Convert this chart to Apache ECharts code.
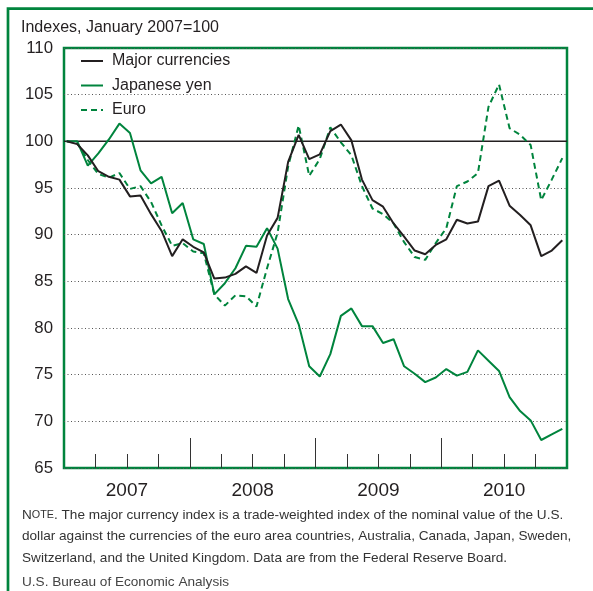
<!DOCTYPE html>
<html><head><meta charset="utf-8">
<script src="https://cdn.jsdelivr.net/npm/echarts@6/dist/echarts.min.js"></script>
<style>html,body{margin:0;padding:0;background:#fff}#c{width:593px;height:591px}</style>
</head><body><div id="c"></div>
<script>
const months = ['2007-01','2007-02','2007-03','2007-04','2007-05','2007-06','2007-07','2007-08','2007-09','2007-10','2007-11','2007-12',
  '2008-01','2008-02','2008-03','2008-04','2008-05','2008-06','2008-07','2008-08','2008-09','2008-10','2008-11','2008-12',
  '2009-01','2009-02','2009-03','2009-04','2009-05','2009-06','2009-07','2009-08','2009-09','2009-10','2009-11','2009-12',
  '2010-01','2010-02','2010-03','2010-04','2010-05','2010-06','2010-07','2010-08','2010-09','2010-10','2010-11','2010-12'];
const major = [100, 99.7, 98.5, 96.8, 96.2, 95.9, 94.1, 94.2, 92.2, 90.4, 87.7, 89.5, 88.7, 88.1, 85.3, 85.4, 85.8, 86.6, 85.9, 89.9, 91.8, 97.8, 100.7, 98.1, 98.6, 101.1, 101.8, 100.1, 95.9, 93.7, 93.0, 91.2, 89.8, 88.3, 87.9, 88.9, 89.5, 91.6, 91.2, 91.4, 95.2, 95.8, 93.1, 92.1, 91.0, 87.7, 88.3, 89.4];
const yen = [100, 100, 97.4, 98.7, 100.2, 101.9, 100.9, 96.9, 95.5, 96.2, 92.3, 93.4, 89.5, 89.0, 83.6, 84.8, 86.4, 88.8, 88.7, 90.7, 88.5, 83.1, 80.4, 75.9, 74.8, 77.2, 81.3, 82.1, 80.2, 80.2, 78.4, 78.8, 75.9, 75.1, 74.2, 74.7, 75.6, 74.9, 75.3, 77.6, 76.5, 75.4, 72.6, 71.1, 70.1, 68.0, 68.6, 69.2];
const euro = [100, 99.8, 98.0, 96.5, 96.1, 96.6, 94.9, 95.2, 93.5, 91.0, 88.8, 89.1, 88.2, 88.0, 83.6, 82.4, 83.5, 83.4, 82.3, 86.4, 90.2, 97.3, 101.7, 96.3, 98.1, 101.5, 99.9, 98.5, 95.2, 92.8, 92.2, 91.2, 89.2, 87.6, 87.3, 89.1, 90.7, 95.2, 95.7, 96.6, 103.7, 106.1, 101.4, 100.7, 99.6, 93.7, 95.9, 98.2];
const yearLabels = ['2007','2008','2009','2010'];
const seriesNames = ['Major currencies','Japanese yen','Euro'];
const yTitle = 'Indexes, January 2007=100';
const noteText = ['. The major currency index is a trade-weighted index of the nominal value of the U.S.',
  'dollar against the currencies of the euro area countries, Australia, Canada, Japan, Sweden,',
  'Switzerland, and the United Kingdom. Data are from the Federal Reserve Board.'];
const sourceText = 'U.S. Bureau of Economic Analysis';
const quarterTicks = [3, 6, 9, 15, 18, 21, 27, 30, 33, 39, 42, 45];
const yearTicks = [12, 24, 36];
const yearLabelPos = [6, 18, 30, 42];

const FONT = "'Liberation Sans',Arial,sans-serif";
const GREEN = '#00843d';
const INK = '#231f20';

const chart = echarts.init(document.getElementById('c'), null, {renderer:'canvas'});
const option = {
  animation: false,
  backgroundColor: '#fff',
  textStyle: {fontFamily: FONT},
  title: {text: yTitle, left: 21, top: 19.5, padding: 0,
    textStyle: {fontFamily: FONT, fontSize: 16, fontWeight: 'normal', color: INK}},
  legend: {
    orient: 'vertical', left: 80, top: 53, padding: 0, itemWidth: 22, itemHeight: 14, itemGap: 8.5,
    data: seriesNames,
    itemStyle: {opacity: 0},
    textStyle: {fontFamily: FONT, fontSize: 16, lineHeight: 14, color: INK, padding: [0,0,0,4]}
  },
  grid: [
    {left: 64, right: 26, top: 48, height: 420, show: true, borderColor: GREEN, borderWidth: 2.5, backgroundColor: 'transparent'},
    {left: 66.7, right: 30.7, top: 48, height: 420}
  ],
  xAxis: [
    {type: 'value', gridIndex: 0, min: 0, max: 48, interval: 3,
      axisLine: {show: false}, splitLine: {show: false},
      axisTick: {show: true, inside: true, length: 14, customValues: quarterTicks, lineStyle: {color: '#333', width: 1}},
      axisLabel: {show: true, margin: 13, fontFamily: FONT, fontSize: 19, color: INK, customValues: yearLabelPos,
        formatter: v => yearLabels[yearLabelPos.indexOf(v)] || ''}},
    {type: 'value', gridIndex: 0, position: 'bottom', min: 0, max: 48, interval: 12,
      axisLine: {show: false}, splitLine: {show: false}, axisLabel: {show: false},
      axisTick: {show: true, inside: true, length: 30, customValues: yearTicks, lineStyle: {color: '#333', width: 1}}},
    {type: 'category', gridIndex: 1, data: months, boundaryGap: false, show: false}
  ],
  yAxis: [
    {type: 'value', gridIndex: 0, min: 65, max: 110, interval: 5,
      axisLine: {show: false}, axisTick: {show: false},
      axisLabel: {margin: 11, fontFamily: FONT, fontSize: 16.8, color: INK},
      splitLine: {show: true, lineStyle: {color: '#555', width: 1, type: [1, 2.5]}}},
    {type: 'value', gridIndex: 1, min: 65, max: 110, interval: 5, show: false, splitLine: {show: false}}
  ],
  series: [
    {name: 'ref100', type: 'line', xAxisIndex: 0, yAxisIndex: 0, data: [[0, 100], [48, 100]],
      symbol: 'none', silent: true, lineStyle: {color: INK, width: 1.5}, z: 1},
    {name: seriesNames[0], type: 'line', xAxisIndex: 2, yAxisIndex: 1, data: major, symbol: 'none',
      color: INK, lineStyle: {color: INK, width: 2}, z: 5},
    {name: seriesNames[1], type: 'line', xAxisIndex: 2, yAxisIndex: 1, data: yen, symbol: 'none',
      color: GREEN, lineStyle: {color: GREEN, width: 2}, z: 4},
    {name: seriesNames[2], type: 'line', xAxisIndex: 2, yAxisIndex: 1, data: euro, symbol: 'none',
      color: GREEN, lineStyle: {color: GREEN, width: 2, type: [6, 4]}, z: 3}
  ],
  graphic: [
    {type: 'polyline', shape: {points: [[8, 591], [8, 8.7], [593, 8.7]]}, style: {stroke: GREEN, lineWidth: 2.7, fill: null}, silent: true},
    {type: 'text', left: 22, top: 508, style: {
      text: '{n|N}{s|OTE}{t|' + noteText[0] + '}\n{t|' + noteText[1] + '}\n{t|' + noteText[2] + '}',
      rich: {
        n: {fontFamily: FONT, fontSize: 13.6, fill: '#333', lineHeight: 21.5},
        s: {fontFamily: FONT, fontSize: 10.8, fill: '#333', lineHeight: 21.5},
        t: {fontFamily: FONT, fontSize: 13.6, fill: '#333', lineHeight: 21.5}
      }}},
    {type: 'text', left: 22, top: 575, style: {text: sourceText, fontFamily: FONT, fontSize: 13.6, fill: '#444'}}
  ]
};
chart.setOption(option);
</script>
</body></html>
